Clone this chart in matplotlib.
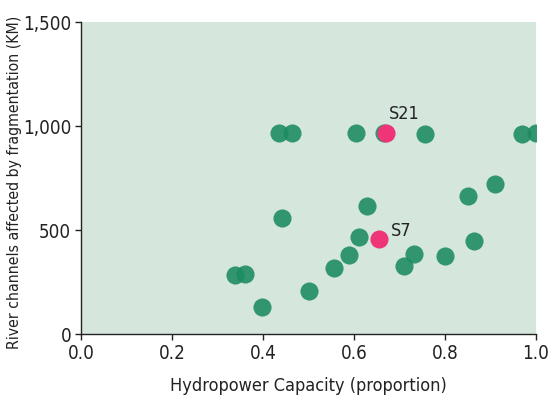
import matplotlib
matplotlib.use("Agg")
import matplotlib.pyplot as plt
from matplotlib.ticker import FuncFormatter

# hydropower capacity (proportion) vs river km affected by fragmentation
cap = [0.436, 0.463, 0.604, 0.666, 0.756, 0.970, 1.000,
       0.339, 0.361, 0.399, 0.442, 0.502, 0.557, 0.590, 0.612, 0.628,
       0.711, 0.733, 0.801, 0.850, 0.865, 0.911]
km = [965, 965, 965, 965, 960, 962, 965,
      283, 287, 131, 559, 208, 315, 378, 464, 616,
      326, 384, 374, 662, 446, 720]

hl_names = ["S21", "S7"]
hl_cap = [0.671, 0.656]
hl_km = [965, 459]
hl_offsets = [(2, 10), (8, 2)]

green = "#1f8c63"
pink = "#ef3478"
bg = "#d5e6dc"

plt.rcParams['font.family'] = ['DejaVu Sans']
plt.rcParams['font.stretch'] = 'condensed'

fig = plt.figure(figsize=(5.49, 4.0), dpi=100)
ax = fig.add_axes([0.1475, 0.165, 0.8283, 0.78])
ax.set_facecolor(bg)

ax.scatter(cap, km, s=170, color=green, alpha=0.9, linewidths=0, zorder=3)
ax.scatter(hl_cap, hl_km, s=170, color=pink, linewidths=0, zorder=4)
for n, xv, yv, off in zip(hl_names, hl_cap, hl_km, hl_offsets):
    ax.annotate(n, (xv, yv), xytext=off, textcoords="offset points",
                fontsize=13, color="#222222", zorder=5)

ax.set_xlim(0, 1.0)
ax.set_ylim(0, 1500)
ax.set_xticks([0.0, 0.2, 0.4, 0.6, 0.8, 1.0])
ax.set_yticks([0, 500, 1000, 1500])
ax.yaxis.set_major_formatter(FuncFormatter(lambda v, p: f"{int(v):,}"))
ax.xaxis.set_major_formatter(FuncFormatter(lambda v, p: f"{v:.1f}"))

for s in ["top", "right"]:
    ax.spines[s].set_visible(False)
for s in ["left", "bottom"]:
    ax.spines[s].set_linewidth(1.0)
    ax.spines[s].set_color("#222222")
ax.tick_params(direction="out", length=4, width=1, labelsize=13.5, colors="#222222", pad=3)

ax.set_xlabel("Hydropower Capacity (proportion)", fontsize=13,
              color="#222222", labelpad=10)
ax.set_ylabel("River channels affected by fragmentation (KM)", fontsize=11.3,
              color="#222222")
ax.yaxis.set_label_coords(-0.13, 0.485)

fig.savefig("out.png", dpi=100)
